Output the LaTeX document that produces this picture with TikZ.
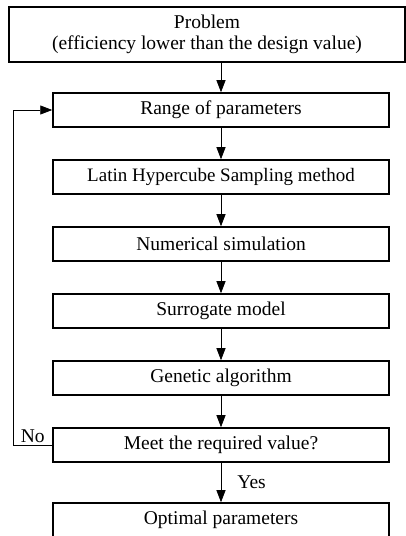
\documentclass[tikz,border=0pt]{standalone}
\usepackage{fontspec}
\setmainfont{Liberation Serif}
\usetikzlibrary{arrows.meta,positioning}

\begin{document}
\begin{tikzpicture}[->,>={Triangle[length=12pt,width=9pt]},x=1pt,y=1pt,line width=0.8pt,
                    node distance=31.5pt,
                    flow box/.style={draw,line width=1.5pt,minimum width=336pt,minimum height=34pt,
                                     inner sep=0pt,font=\fontsize{19.5}{21}\selectfont},
                    lbl/.style={font=\fontsize{19.5}{21}\selectfont,inner sep=2pt}]
    \useasboundingbox (0,0) rectangle (406,536);

    \node[flow box,minimum width=396pt,minimum height=55pt,align=center] (problem) at (207,501.5)
        {Problem\\(efficiency lower than the design value)};
    \node[flow box] (range) [below=29.5pt of problem,xshift=14pt] {Range of parameters};
    \node[flow box,font=\fontsize{19}{21}\selectfont] (lhs) [below=of range] {Latin Hypercube Sampling method};
    \node[flow box] (numsim) [below=of lhs] {Numerical simulation};
    \node[flow box] (surrogate) [below=of numsim] {Surrogate model};
    \node[flow box] (genetic) [below=of surrogate] {Genetic algorithm};
    \node[flow box] (meet) [below=of genetic] {Meet the required value?};
    \node[flow box] (optimal) [below=39.5pt of meet] {Optimal parameters};

    \draw (range.north |- problem.south) -- (range);
    \path (range) edge (lhs)
          (lhs) edge (numsim)
          (numsim) edge (surrogate)
          (surrogate) edge (genetic)
          (genetic) edge (meet)
          (meet) edge node[lbl,right=14pt] {Yes} (optimal);
    \draw (meet.west) -- node[lbl,above] {No} ++(-39pt,0) |- (range.west);
\end{tikzpicture}
\end{document}
